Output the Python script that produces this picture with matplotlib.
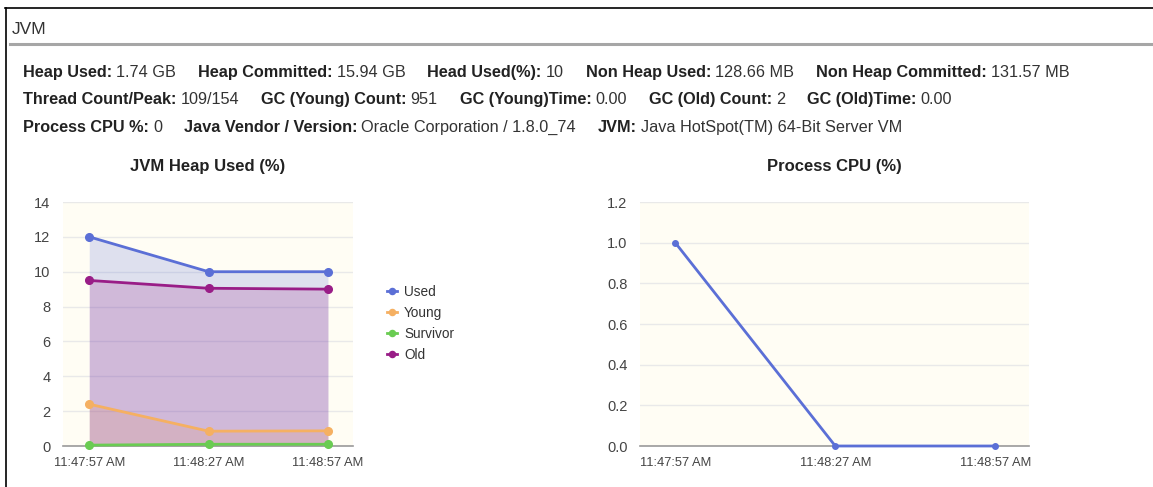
import matplotlib
matplotlib.use("Agg")
import matplotlib.pyplot as plt
from matplotlib.lines import Line2D

plt.rcParams['font.family'] = ['Liberation Sans', 'DejaVu Sans']

W, H = 1153, 487
DPI = 100

# ---- data ----
times = ["11:47:57 AM", "11:48:27 AM", "11:48:57 AM"]
heap_used = [12.0, 10.0, 10.0]
heap_young = [2.4, 0.85, 0.87]
heap_survivor = [0.05, 0.1, 0.1]
heap_old = [9.5, 9.05, 9.0]
cpu = [1.0, 0.0, 0.0]

heap_ticks = [0, 2, 4, 6, 8, 10, 12, 14]
cpu_ticks = [0.0, 0.2, 0.4, 0.6, 0.8, 1.0, 1.2]

info_rows = [
    [("Heap Used:", "1.74 GB"), ("Heap Committed:", "15.94 GB"),
     ("Head Used(%):", "10"), ("Non Heap Used:", "128.66 MB"),
     ("Non Heap Committed:", "131.57 MB")],
    [("Thread Count/Peak:", "109/154"), ("GC (Young) Count:", "951"),
     ("GC (Young)Time:", "0.00"), ("GC (Old) Count:", "2"),
     ("GC (Old)Time:", "0.00")],
    [("Process CPU %:", "0"), ("Java Vendor / Version:", "Oracle Corporation / 1.8.0_74"),
     ("JVM:", "Java HotSpot(TM) 64-Bit Server VM")],
]

C_USED = "#5b6fd6"
C_YOUNG = "#f5b062"
C_SURV = "#6acc52"
C_OLD = "#991d87"
BG = "#fffdf4"
GRID = "#e9e9e9"
TXT = "#333333"

fig = plt.figure(figsize=(W / DPI, H / DPI), dpi=DPI)
fig.patch.set_facecolor("white")


def fx(px):
    return px / W


def fy(py):
    return 1 - py / H


# panel frame and header rule
fig.add_artist(Line2D([fx(5), fx(W)], [fy(8), fy(8)], color="black", lw=1.2))
fig.add_artist(Line2D([fx(6), fx(6)], [fy(8), fy(H)], color="black", lw=1.2))
fig.add_artist(Line2D([fx(10), fx(W)], [fy(44), fy(44)], color="#a6a6a6", lw=2.2))
fig.text(fx(12), fy(29), "JVM", fontsize=12.5, color=TXT, va="center", ha="left")

# info rows: bold label followed by plain value, sharing one baseline
renderer = fig.canvas.get_renderer()
row_base = [77, 104, 132]
for items, yy in zip(info_rows, row_base):
    x = 23.0
    for label, value in items:
        t = fig.text(fx(x), fy(yy), label, fontsize=11.7, fontweight="bold",
                     color="#222222", va="baseline", ha="left")
        x = t.get_window_extent(renderer).x1 + 4
        t2 = fig.text(fx(x), fy(yy), value, fontsize=11.7, color=TXT,
                      va="baseline", ha="left")
        x = t2.get_window_extent(renderer).x1 + 22


def style_axes(ax, ticks, fmt):
    ax.set_facecolor(BG)
    for s in ("top", "right", "left"):
        ax.spines[s].set_visible(False)
    ax.spines["bottom"].set_color("#9a9a9a")
    ax.spines["bottom"].set_linewidth(1.2)
    ax.set_yticks(ticks)
    ax.set_yticklabels([fmt(v) for v in ticks])
    ax.set_ylim(ticks[0], ticks[-1])
    ax.set_xticks(range(len(times)))
    ax.set_xticklabels(times)
    ax.set_xlim(-0.22, len(times) - 1 + 0.21)
    ax.tick_params(axis="both", length=0, labelcolor="#444444")
    ax.tick_params(axis="y", pad=9, labelsize=10.5)
    ax.tick_params(axis="x", pad=8, labelsize=9.3)
    ax.yaxis.grid(True, color=GRID, lw=1)
    ax.set_axisbelow(True)


x_idx = list(range(len(times)))

# ---- JVM heap used ----
ax1 = fig.add_axes([fx(63), fy(446), fx(353 - 63), (446 - 202) / H])
style_axes(ax1, heap_ticks, lambda v: f"{v:d}")
series = [("Used", heap_used, C_USED), ("Young", heap_young, C_YOUNG),
          ("Survivor", heap_survivor, C_SURV), ("Old", heap_old, C_OLD)]
handles = []
for name, vals, col in series:
    ax1.fill_between(x_idx, 0, vals, color=col, alpha=0.2, lw=0, zorder=2)
for name, vals, col in series:
    ln, = ax1.plot(x_idx, vals, color=col, lw=2.0, marker="o", ms=5.5,
                   label=name, zorder=4, clip_on=False)
    handles.append(ln)
ax1.set_title("JVM Heap Used (%)", fontsize=12, fontweight="bold",
              color="#222222", pad=22)
leg = fig.legend(handles=handles, loc="upper left",
                 bbox_to_anchor=(fx(387), fy(285)), frameon=False,
                 fontsize=9.8, handlelength=0.7, handletextpad=0.55,
                 labelspacing=0.52, markerscale=0.8, borderaxespad=0,
                 borderpad=0)
for t in leg.get_texts():
    t.set_color(TXT)

# ---- process CPU ----
ax2 = fig.add_axes([fx(640), fy(446), fx(1029 - 640), (446 - 202) / H])
style_axes(ax2, cpu_ticks, lambda v: f"{v:.1f}")
ax2.plot(x_idx, cpu, color=C_USED, lw=2.0, marker="o", ms=4, zorder=4,
         clip_on=False)
ax2.set_title("Process CPU (%)", fontsize=12, fontweight="bold",
              color="#222222", pad=22)

fig.savefig("out.png", dpi=DPI)
